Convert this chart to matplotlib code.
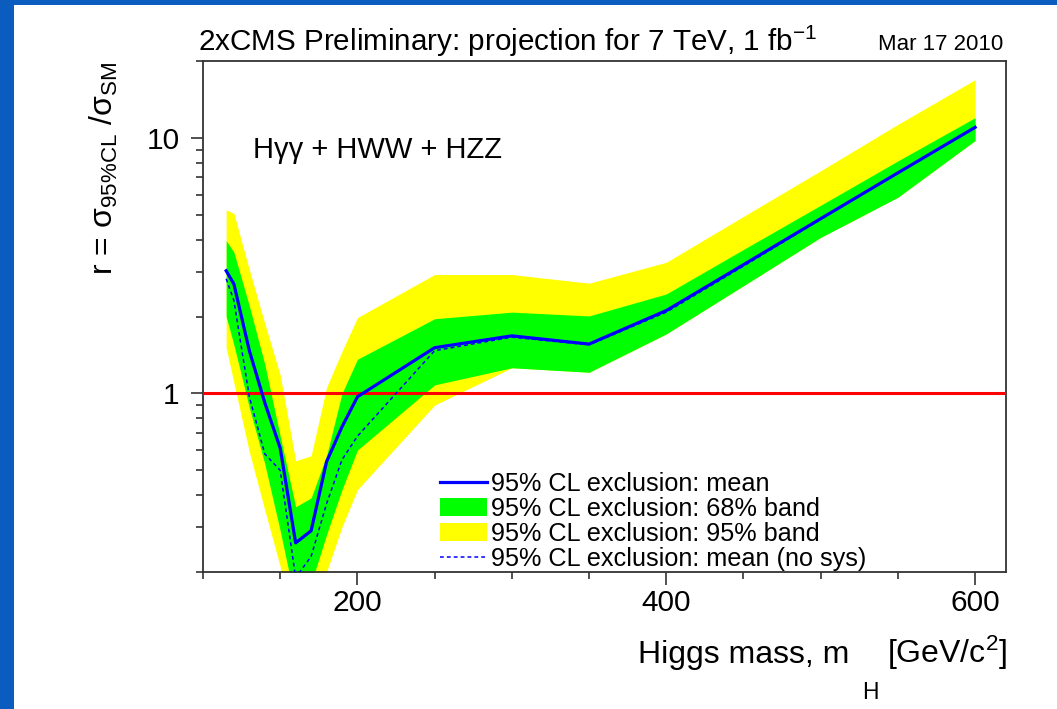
import matplotlib
matplotlib.use("Agg")
import matplotlib.pyplot as plt
from matplotlib.lines import Line2D
from matplotlib.patches import Patch, Rectangle
from matplotlib.ticker import FixedLocator, FixedFormatter, NullFormatter, MultipleLocator

# Higgs mass points [GeV/c^2]
mass = [115, 120, 130, 140, 150, 160, 170, 180, 190, 200,
        250, 300, 350, 400, 450, 500, 550, 600]

# expected r = sigma_95%CL / sigma_SM
mean = [3.02, 2.68, 1.47, 0.92, 0.61, 0.26, 0.29, 0.54, 0.74, 0.97,
        1.51, 1.68, 1.56, 2.11, 3.19, 4.83, 7.30, 11.0]
mean_nosys = [2.81, 2.31, 0.97, 0.58, 0.50, 0.19, 0.23, 0.37, 0.55, 0.68,
              1.47, 1.66, 1.55, 2.08, 3.15, 4.80, 7.30, 11.0]
band68_lo = [2.00, 1.55, 0.88, 0.53, 0.29, 0.15, 0.18, 0.28, 0.42, 0.60,
             1.08, 1.26, 1.21, 1.71, 2.64, 4.08, 5.86, 9.77]
band68_hi = [3.96, 3.57, 2.20, 1.30, 0.68, 0.36, 0.39, 0.57, 1.00, 1.36,
             1.96, 2.08, 2.01, 2.45, 3.66, 5.45, 8.13, 12.0]
band95_lo = [1.51, 1.10, 0.59, 0.35, 0.21, 0.10, 0.12, 0.20, 0.30, 0.42,
             0.90, 1.26, 1.21, 1.71, 2.64, 4.08, 5.86, 9.77]
band95_hi = [5.23, 5.07, 3.05, 1.88, 1.18, 0.545, 0.57, 1.055, 1.46, 1.98,
             2.92, 2.92, 2.70, 3.26, 4.93, 7.44, 11.3, 16.9]

legend_labels = ["95% CL exclusion: mean",
                 "95% CL exclusion: 68% band",
                 "95% CL exclusion: 95% band",
                 "95% CL exclusion: mean (no sys)"]


def main():
    plt.rcParams["font.family"] = ["Liberation Sans", "DejaVu Sans"]
    plt.rcParams["mathtext.fontset"] = "custom"
    plt.rcParams["mathtext.rm"] = "Liberation Sans"
    plt.rcParams["mathtext.it"] = "Liberation Sans:italic"
    plt.rcParams["mathtext.sf"] = "Liberation Sans"

    W, H = 1057, 709
    fig = plt.figure(figsize=(W / 100, H / 100), dpi=100)
    fig.patch.set_facecolor("#0a5cbf")
    fig.patches.append(Rectangle((14 / W, 0), 1, 1 - 5 / H, transform=fig.transFigure,
                                 facecolor="white", edgecolor="none", zorder=-5))

    ax = fig.add_axes([203 / W, 1 - 572 / H, (1006 - 203) / W, (572 - 61) / H])
    ax.set_zorder(2)
    ax.set_facecolor("white")

    ax.fill_between(mass, band95_lo, band95_hi, color="#ffff00", linewidth=0, zorder=1)
    ax.fill_between(mass, band68_lo, band68_hi, color="#00ff00", linewidth=0, zorder=2)
    ax.axhline(1.0, color="#ff0000", linewidth=2.2, zorder=3)
    ax.plot(mass, mean_nosys, color="#0000ff", linewidth=1.1, dashes=(2.5, 2.0), zorder=4)
    ax.plot(mass, mean, color="#0000ff", linewidth=2.3, zorder=5)

    ax.set_yscale("log")
    ax.set_xlim(100, 620)
    ax.set_ylim(0.2, 20)

    ax.xaxis.set_major_locator(FixedLocator([200, 400, 600]))
    ax.xaxis.set_minor_locator(MultipleLocator(50))
    ax.yaxis.set_major_locator(FixedLocator([1, 10]))
    ax.yaxis.set_major_formatter(FixedFormatter(["1", "10"]))
    ax.yaxis.set_minor_locator(FixedLocator([0.2, 0.3, 0.4, 0.5, 0.6, 0.7, 0.8, 0.9,
                                             2, 3, 4, 5, 6, 7, 8, 9, 20]))
    ax.yaxis.set_minor_formatter(NullFormatter())

    ax.tick_params(which="both", direction="out", top=False, right=False,
                   color="#333333", width=1.2, labelsize=21.5)
    ax.tick_params(which="major", length=9)
    ax.tick_params(which="minor", length=5)
    ax.tick_params(axis="x", which="major", pad=3)
    ax.tick_params(axis="y", which="major", pad=8)
    for sp in ax.spines.values():
        sp.set_color("#333333")
        sp.set_linewidth(1.3)

    handles = [Line2D([], [], color="#0000ff", linewidth=2.3),
               Patch(facecolor="#00ff00", edgecolor="none"),
               Patch(facecolor="#ffff00", edgecolor="none"),
               Line2D([], [], color="#0000ff", linewidth=1.1, dashes=(2.5, 2.0))]
    ax.legend(handles, legend_labels, loc="upper left",
              bbox_to_anchor=((440 - 203) / 803, (572 - 472) / 511),
              frameon=False, fontsize=18.2, handlelength=1.85, handleheight=0.75,
              handletextpad=0.15, labelspacing=0.04, borderpad=0, borderaxespad=0)

    fig.text(253 / W, 1 - 158 / H, "Hγγ + HWW + HZZ", fontsize=21,
             va="baseline", ha="left", zorder=5)

    fig.text(198 / W, 1 - 51 / H, "2xCMS Preliminary: projection for 7 TeV, 1 fb$^{-1}$",
             fontsize=21.3, va="baseline", ha="left")
    fig.text(1003 / W, 1 - 50 / H, "Mar 17 2010", fontsize=16, va="baseline", ha="right")

    fig.text(104 / W, 1 - 62 / H,
             r"r = σ$_{\mathrm{95\%CL}}$ /σ$_{\mathrm{SM}}$",
             fontsize=23, rotation=90, ha="center", va="top")

    fig.text(849 / W, 1 - 663 / H, "Higgs mass, m", fontsize=23, ha="right", va="baseline")
    fig.text(862 / W, 1 - 699 / H, "H", fontsize=16.5, ha="left", va="baseline")
    fig.text(1007 / W, 1 - 663 / H, "[GeV/c$^{2}$]", fontsize=23, ha="right", va="baseline")

    fig.savefig("out.png", dpi=100, facecolor=fig.get_facecolor())


if __name__ == "__main__":
    main()
